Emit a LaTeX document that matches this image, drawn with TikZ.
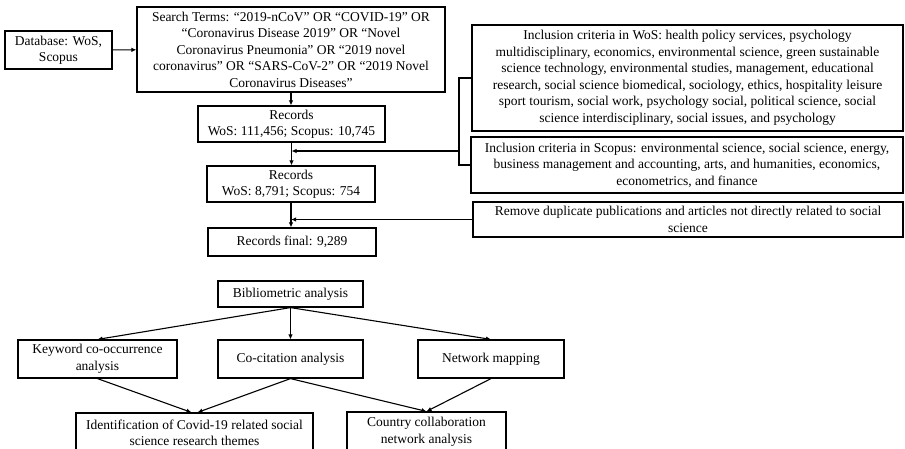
\documentclass[tikz,border=0pt]{standalone}
\usepackage{fontspec}
\setmainfont{Liberation Serif}
\usetikzlibrary{arrows.meta, positioning, calc}

\begin{document}
\begin{tikzpicture}[
    x=1pt, y=-1pt,
    every node/.style={font=\fontsize{13.5}{16.5}\selectfont},
    box/.style={rectangle, draw=black, line width=1.2pt, align=center, inner sep=1pt},
    arrow/.style={-{Latex[length=5pt,width=4.5pt]}, line width=1.1pt},
    link/.style={line width=1.1pt}
]
\useasboundingbox (0,0) rectangle (905,448);

% Row 1: Database & Search Terms
\node[box, minimum width=107, minimum height=38] (db) at (58.5, 50) {Database: WoS,\\Scopus};
\node[box, minimum width=308, minimum height=85] (search) at (291, 49.5) {Search Terms: “2019-nCoV” OR “COVID-19” OR\\“Coronavirus Disease 2019” OR “Novel\\Coronavirus Pneumonia” OR “2019 novel\\coronavirus” OR “SARS-CoV-2” OR “2019 Novel\\Coronavirus Diseases”};

% Records chain (Centered column)
\node[box, minimum width=187, minimum height=36] (rec1) at (291.5, 124) {Records\\WoS: 111,456; Scopus: 10,745};
\node[box, minimum width=168, minimum height=36] (rec2) at (291, 184) {Records\\WoS: 8,791; Scopus: 754};
\node[box, minimum width=168, minimum height=28] (final) at (292, 242) {Records final: 9,289};

% Right column: Inclusion / Exclusion criteria
\node[box, minimum width=431, minimum height=106] (wos) at (687.5, 78) {Inclusion criteria in WoS: health policy services, psychology\\multidisciplinary, economics, environmental science, green sustainable\\science technology, environmental studies, management, educational\\research, social science biomedical, sociology, ethics, hospitality leisure\\sport tourism, social work, psychology social, political science, social\\science interdisciplinary, social issues, and psychology};
\node[box, minimum width=432, minimum height=56] (scopus) at (687, 165) {Inclusion criteria in Scopus: environmental science, social science, energy,\\business management and accounting, arts, and humanities, economics,\\econometrics, and finance};
\node[box, minimum width=430, minimum height=35] (remove) at (688, 219.5) {Remove duplicate publications and articles not directly related to social\\science};

% Row 2: Bibliometric analysis
\node[box, minimum width=145, minimum height=26] (biblio) at (290.5, 294) {Bibliometric analysis};
\node[box, minimum width=159, minimum height=38] (keyword) at (97.5, 359) {Keyword co-occurrence\\analysis};
\node[box, minimum width=145, minimum height=38] (cocit) at (290.5, 359) {Co-citation analysis};
\node[box, minimum width=146, minimum height=38] (netmap) at (491, 359) {Network mapping};
\node[box, minimum width=237, minimum height=40] (themes) at (194.5, 433) {Identification of Covid-19 related social\\science research themes};
\node[box, minimum width=159, minimum height=40] (country) at (426.5, 432) {Country collaboration\\network analysis};

% Arrows
\draw[arrow] (db) -- (search);
\draw[arrow] (search.south) -- (search.south |- rec1.north);
\draw[arrow] (rec1.south) -- (rec1.south |- rec2.north);
\draw[arrow] (rec2.south) -- (rec2.south |- final.north);

% Inclusion bracket to records
\coordinate (br) at (459, 151);
\draw[link] (wos.west) -- (wos.west -| br) |- (scopus.west);
\draw[arrow] (br) -- (br -| rec1.south);
\draw[arrow] (remove.west) -- (remove.west -| rec2.south);

% Bibliometric branches
\draw[arrow] (biblio.south) -- (keyword.north);
\draw[arrow] (biblio.south) -- (cocit.north);
\draw[arrow] (biblio.south) -- (netmap.north);
\draw[arrow] (keyword.south) -- ([xshift=-3pt]themes.north);
\draw[arrow] (cocit.south) -- ([xshift=3pt]themes.north);
\draw[arrow] (cocit.south) -- (country.north);
\draw[arrow] (netmap.south) -- (country.north);

\end{tikzpicture}
\end{document}
